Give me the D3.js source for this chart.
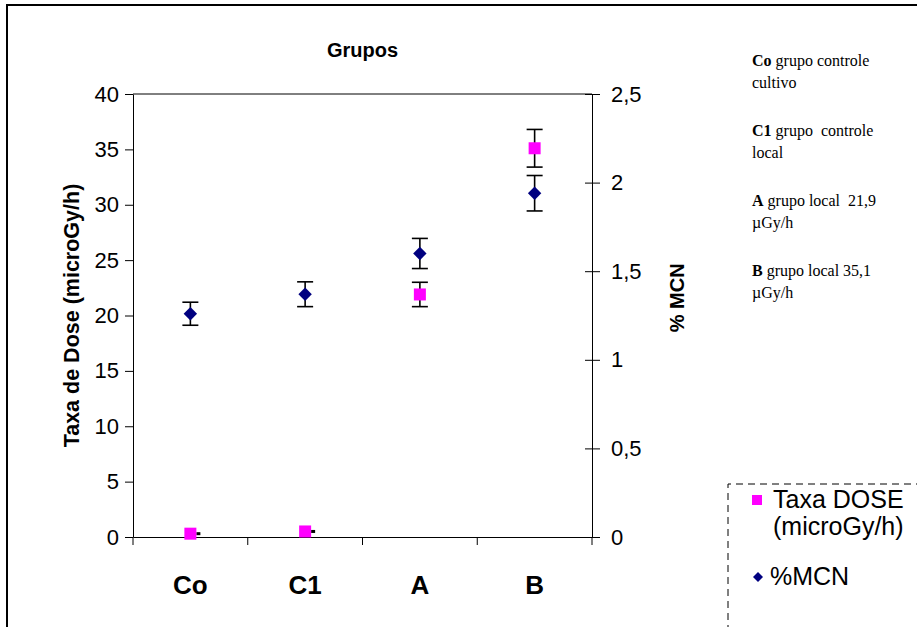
<!DOCTYPE html>
<html>
<head>
<meta charset="utf-8">
<script src="https://cdn.jsdelivr.net/npm/d3@7"></script>
<style>
  body { margin: 0; background: #fff; }
  svg { display: block; font-family: "Liberation Sans", Arial, sans-serif; }
</style>
</head>
<body>
<div id="chart"></div>
<script>
// data
const groups = ["Co", "C1", "A", "B"];
const doseValues = [0.3, 0.5, 21.9, 35.1];      // Taxa DOSE (microGy/h), left axis
const doseErrors = [0, 0, 1.1, 1.7];
const mcnValues = [1.26, 1.37, 1.60, 1.94];      // %MCN, right axis
const mcnErrors = [0.065, 0.07, 0.085, 0.10];
const leftTicks = [0, 5, 10, 15, 20, 25, 30, 35, 40];
const rightTicks = [0, 0.5, 1, 1.5, 2, 2.5];
const notes = [
  ["Co", " grupo controle", "cultivo"],
  ["C1", " grupo  controle", "local"],
  ["A", " grupo local  21,9", "\u00b5Gy/h"],
  ["B", " grupo local 35,1", "\u00b5Gy/h"]
];

const width = 917, height = 627;
const margins = { top: 94, right: 325, bottom: 90, left: 133 };

const svg = d3.select("#chart").append("svg")
    .attr("width", width)
    .attr("height", height);

// outer frame
svg.append("rect")
    .attr("x", 7).attr("y", 5)
    .attr("width", width + 20).attr("height", height + 20)
    .attr("fill", "none").attr("stroke", "#000").attr("stroke-width", 2);

// scales
const x = d3.scaleBand()
    .domain(groups)
    .range([margins.left, width - margins.right]);
const yLeft = d3.scaleLinear()
    .domain([0, 40])
    .range([height - margins.bottom, margins.top]);
const yRight = d3.scaleLinear()
    .domain([0, 2.5])
    .range([height - margins.bottom, margins.top]);

const x0 = margins.left, x1 = width - margins.right;

// top border of plot area
svg.append("line")
    .attr("x1", x0).attr("x2", x1)
    .attr("y1", margins.top).attr("y2", margins.top)
    .attr("stroke", "#000");

// left axis
svg.append("g")
    .attr("transform", `translate(${x0},0)`)
    .call(d3.axisLeft(yLeft).tickValues(leftTicks).tickSize(8).tickSizeOuter(0).tickPadding(6))
    .call(g => g.selectAll("text").style("font-size", "22px").attr("fill", "#000"))
    .call(g => g.selectAll("line,path").attr("stroke", "#000"));

// right axis, ticks cross the line
svg.append("g")
    .attr("transform", `translate(${x1},0)`)
    .call(d3.axisRight(yRight).tickValues(rightTicks).tickSize(8).tickSizeOuter(0).tickPadding(11)
        .tickFormat(d => String(d).replace(".", ",")))
    .call(g => g.selectAll(".tick line").attr("x1", -7))
    .call(g => g.selectAll("text").style("font-size", "22px").attr("fill", "#000"))
    .call(g => g.selectAll("line,path").attr("stroke", "#000"));

// bottom axis
svg.append("g")
    .attr("transform", `translate(0,${height - margins.bottom})`)
    .call(d3.axisBottom(x).tickSize(0).tickSizeOuter(0).tickPadding(39))
    .call(g => g.selectAll("text").style("font-size", "26px").style("font-weight", "bold").attr("fill", "#000"))
    .call(g => g.select(".domain").attr("stroke", "#000"));
// bottom ticks at band edges
const edges = groups.map(g => x(g)).concat([x1]);
svg.append("g").selectAll("line")
    .data(edges)
    .join("line")
    .attr("x1", d => d).attr("x2", d => d)
    .attr("y1", height - margins.bottom).attr("y2", height - margins.bottom + 8)
    .attr("stroke", "#000");

// title and axis titles
svg.append("text")
    .attr("x", (x0 + x1) / 2).attr("y", 57)
    .attr("text-anchor", "middle")
    .style("font-size", "20px").style("font-weight", "bold")
    .text("Grupos");

svg.append("text")
    .attr("transform", `translate(79,${(yLeft(0) + yLeft(40)) / 2}) rotate(-90)`)
    .attr("text-anchor", "middle")
    .style("font-size", "21.5px").style("font-weight", "bold")
    .text("Taxa de Dose (microGy/h)");

svg.append("text")
    .attr("transform", `translate(684,${yRight(1.35)}) rotate(-90)`)
    .attr("text-anchor", "middle")
    .style("font-size", "20px").style("font-weight", "bold")
    .text("% MCN");

const cx = d => x(d) + x.bandwidth() / 2;
const cap = 8;

// error bars
function errorBars(vals, errs, scale) {
  const data = groups.map((g, i) => ({ g, v: vals[i], e: errs[i] })).filter(d => d.e > 0);
  const eg = svg.append("g").attr("stroke", "#000").attr("stroke-width", 1.6);
  eg.selectAll(".v").data(data).join("line")
    .attr("x1", d => cx(d.g)).attr("x2", d => cx(d.g))
    .attr("y1", d => scale(d.v - d.e)).attr("y2", d => scale(d.v + d.e));
  eg.selectAll(".t").data(data).join("line")
    .attr("x1", d => cx(d.g) - cap).attr("x2", d => cx(d.g) + cap)
    .attr("y1", d => scale(d.v + d.e)).attr("y2", d => scale(d.v + d.e));
  eg.selectAll(".b").data(data).join("line")
    .attr("x1", d => cx(d.g) - cap).attr("x2", d => cx(d.g) + cap)
    .attr("y1", d => scale(d.v - d.e)).attr("y2", d => scale(d.v - d.e));
}
errorBars(doseValues, doseErrors, yLeft);
errorBars(mcnValues, mcnErrors, yRight);

// tiny black marks next to near-zero dose points
svg.append("g").selectAll("rect")
    .data(groups.map((g, i) => ({ g, v: doseValues[i], e: doseErrors[i] })).filter(d => d.e === 0))
    .join("rect")
    .attr("x", d => cx(d.g) + 6).attr("y", d => yLeft(d.v) - 1.5)
    .attr("width", 4).attr("height", 3)
    .attr("fill", "#000");

// dose squares
svg.append("g").selectAll("rect")
    .data(groups.map((g, i) => ({ g, v: doseValues[i] })))
    .join("rect")
    .attr("x", d => cx(d.g) - 6).attr("y", d => yLeft(d.v) - 6)
    .attr("width", 12).attr("height", 12)
    .attr("fill", "#ff00ff");

// mcn diamonds
const diamond = d3.symbol().type(d3.symbolSquare).size(90);
svg.append("g").selectAll("path")
    .data(groups.map((g, i) => ({ g, v: mcnValues[i] })))
    .join("path")
    .attr("d", diamond)
    .attr("transform", d => `translate(${cx(d.g)},${yRight(d.v)}) rotate(45)`)
    .attr("fill", "#000080");

// notes on the right
const noteG = svg.append("g").style("font-family", "'Liberation Serif', 'Times New Roman', serif").style("font-size", "16px");
notes.forEach((n, i) => {
  const y = 66 + i * 70;
  const t = noteG.append("text").attr("x", 752).attr("y", y);
  t.append("tspan").style("font-weight", "bold").text(n[0]);
  t.append("tspan").style("white-space", "pre").text(n[1]);
  noteG.append("text").attr("x", 752).attr("y", y + 22).text(n[2]);
});

// legend with dashed box
const lg = svg.append("g");
lg.append("path")
    .attr("d", `M728,${height + 5} V484 H${width + 5}`)
    .attr("fill", "none").attr("stroke", "#000").attr("stroke-dasharray", "7,5");
lg.append("rect").attr("x", 752).attr("y", 495).attr("width", 10).attr("height", 10).attr("fill", "#ff00ff");
lg.append("text").attr("x", 773).attr("y", 508).style("font-size", "25px").text("Taxa DOSE");
lg.append("text").attr("x", 773).attr("y", 535).style("font-size", "25px").text("(microGy/h)");
lg.append("path")
    .attr("d", d3.symbol().type(d3.symbolSquare).size(50))
    .attr("transform", "translate(758,577) rotate(45)")
    .attr("fill", "#000080");
lg.append("text").attr("x", 770).attr("y", 585).style("font-size", "25px").text("%MCN");
</script>
</body>
</html>
